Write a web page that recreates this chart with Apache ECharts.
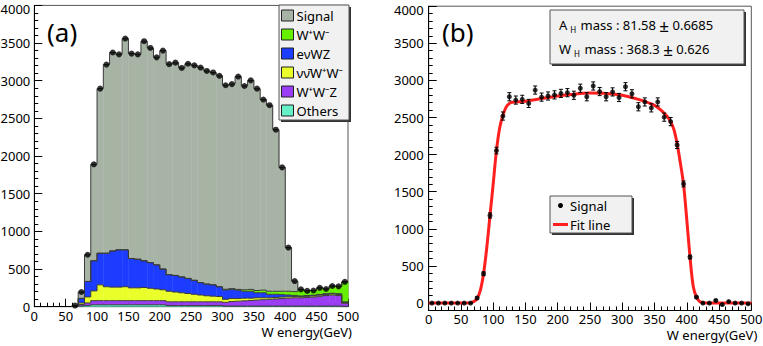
<!DOCTYPE html>
<html>
<head>
<meta charset="utf-8">
<script src="https://cdn.jsdelivr.net/npm/echarts@6/dist/echarts.min.js"></script>
<style>html,body{margin:0;padding:0;background:#fff;}#c{width:763px;height:346px;}</style>
</head>
<body>
<div id="c"></div>
<script>
// ---------- data ----------
const binEdges = [0,10,20,30,40,50,60,70,80,90,100,110,120,130,140,150,160,170,180,190,200,210,220,230,240,250,260,270,280,290,300,310,320,330,340,350,360,370,380,390,400,410,420,430,440,450,460,470,480,490,500];
const binCenters = [5,15,25,35,45,55,65,75,85,95,105,115,125,135,145,155,165,175,185,195,205,215,225,235,245,255,265,275,285,295,305,315,325,335,345,355,365,375,385,395,405,415,425,435,445,455,465,475,485,495];

// panel (a) stacked components, bottom to top
const others = [0,0,0,0,0,0,2,10,15,25,25,25,25,25,25,25,25,25,25,25,25,15,15,15,15,15,15,15,15,15,8,8,8,8,8,8,8,8,8,8,8,8,8,8,8,8,8,8,8,5];
const wwz    = [0,0,0,0,0,0,5,20,35,55,55,55,55,55,55,55,55,55,55,55,55,50,50,50,50,50,50,50,50,50,50,60,65,70,75,80,85,90,95,100,105,110,110,115,120,130,140,145,140,40];
const nnww   = [0,0,0,0,0,0,3,20,80,130,210,185,180,180,185,170,170,175,165,155,145,140,130,120,110,100,90,80,75,70,40,40,35,35,30,30,25,20,20,20,18,18,15,15,15,15,15,15,15,10];
const enwz   = [0,0,0,0,0,0,0,60,205,400,420,445,480,495,490,390,380,355,340,320,275,220,220,210,200,185,165,155,150,130,124,122,112,92,92,67,67,47,42,32,24,14,10,10,10,10,10,10,10,10];
const wwPair = [0,0,0,0,0,0,0,0,0,0,0,0,0,0,0,0,0,0,0,0,0,0,0,0,0,0,0,0,0,0,10,10,10,20,25,30,35,40,40,45,50,50,87,62,62,87,62,97,97,265];
const signalA= [0,0,0,0,0,0,5,85,355,1280,2185,2505,2635,2595,2805,2720,2720,2915,2850,2755,2900,2795,2825,2775,2850,2855,2855,2830,2820,2800,2708,2715,2825,2705,2775,2680,2530,2470,2145,1645,580,140,0,0,0,0,0,0,0,0];
const totalA = [0,0,0,0,0,0,15,195,690,1890,2895,3215,3375,3350,3560,3360,3350,3525,3435,3310,3400,3220,3240,3170,3225,3205,3175,3130,3110,3065,2940,2955,3055,2930,3005,2895,2750,2675,2350,1850,785,340,230,210,215,250,235,275,270,330];

// panel (b)
const signalB = [0,0,0,0,0,0,0,68,395,1180,2055,2520,2780,2735,2745,2690,2870,2775,2790,2805,2825,2835,2800,2895,2780,2925,2850,2780,2845,2770,2915,2820,2645,2710,2630,2710,2505,2445,2130,1605,620,80,0,0,35,-20,20,0,0,-10];
const errB    = [8,8,8,8,8,8,8,15,25,35,45,55,55,55,55,55,55,55,55,55,55,55,55,55,55,55,55,55,55,55,55,55,55,55,55,55,55,55,48,40,25,12,10,10,10,10,10,10,10,10];
const fitE = [0,20,40,60,65,70,75,80,85,90,95,100,105,110,115,120,125,130,150,175,200,225,250,275,300,325,350,360,370,375,380,385,390,395,400,405,410,415,420,425,430,450,475,500];
const fitV = [0,0,0,2,5,20,60,170,395,745,1180,1610,2055,2360,2530,2640,2690,2705,2720,2755,2790,2815,2830,2825,2800,2745,2665,2600,2510,2445,2340,2150,1890,1600,1125,620,225,80,20,5,0,0,0,0];

const yTicks = [0,500,1000,1500,2000,2500,3000,3500,4000];
const legendNamesA = ['Signal','W\u207AW\u207B','e\u03BDWZ','\u03BD\u03BD\u0304W\u207AW\u207B','W\u207AW\u207BZ','Others'];
const fitText1 = ['A','H',' mass : 81.58 ','\u00B1',' 0.6685'];
const fitText2 = ['W','H',' mass : 368.3 ','\u00B1',' 0.626'];
const legendNamesB = ['Signal','Fit line'];

// ---------- styles ----------
const FONT = 'Noto Sans';
const cols = {signal:'#a7b4a5', ww:'#66f000', enwz:'#1c3cff', nnww:'#eaff2a', wwz:'#9a3df5', others:'#66f0c8'};
const outline = '#3a3a3a';
const comps = [others, wwz, nnww, enwz, wwPair, signalA];
const compCols = [cols.others, cols.wwz, cols.nnww, cols.enwz, cols.ww, cols.signal];

function yLabelFmt(v){ return v === 4000 ? '{t|4000}' : String(v); }
const yLabelRich = {t:{fontSize:13, fontFamily:FONT, color:'#000', padding:[7,0,0,0]}};

const axisCommon = {
  axisLine:{show:true, onZero:false, lineStyle:{color:'#000', width:1}},
  splitLine:{show:false},
};
function xAx(grid, gap, pad, lblMargin){
  return Object.assign({}, axisCommon, {
    type:'value', gridIndex:grid, min:0, max:500, interval:50,
    axisTick:{inside:true, length:8, lineStyle:{color:'#000'}},
    minorTick:{show:true, splitNumber:5, length:4, lineStyle:{color:'#000'}},
    axisLabel:{margin:lblMargin, fontSize:13, lineHeight:13, color:'#000', fontFamily:FONT},
    name:'W energy(GeV)', nameLocation:'end', nameGap:gap,
    nameTextStyle:{align:'right', verticalAlign:'top', padding:[pad,0,0,0], fontSize:13, color:'#000', fontFamily:FONT}
  });
}

const chart = echarts.init(document.getElementById('c'), null, {renderer:'svg'});

const histData = binCenters.map((c,i)=>[binEdges[i], binEdges[i+1], c]);
const errBarData = binCenters.map((c,i)=>[c, signalB[i], errB[i]]);

const option = {
  backgroundColor:'#fff',
  animation:false,
  grid:[
    {left:34.3, top:5.4, width:313.7, height:301.3, show:true, borderColor:'#555', borderWidth:1, containLabel:false, outerBoundsMode:'none'},
    {left:428.7, top:6.2, width:322.6, height:304.3, show:true, borderColor:'#555', borderWidth:1, containLabel:false, outerBoundsMode:'none'}
  ],
  xAxis:[ xAx(0, 4, 19, 3), xAx(1, 6, 18, 2) ],
  yAxis:[
    Object.assign({}, axisCommon, {
      type:'value', gridIndex:0, min:0, max:4000, interval:500,
      axisTick:{inside:true, length:8, lineStyle:{color:'#000'}},
      minorTick:{show:true, splitNumber:5, length:4, lineStyle:{color:'#000'}},
      axisLabel:{margin:4, fontSize:13, color:'#000', fontFamily:FONT, formatter:yLabelFmt, rich:yLabelRich}
    }),
    Object.assign({}, axisCommon, {
      type:'value', gridIndex:1, min:-100, max:4000, interval:100,
      axisTick:{inside:true, length:4, lineStyle:{color:'#000'}},
      axisLabel:{margin:5, fontSize:13, color:'#000', fontFamily:FONT, customValues:yTicks, formatter:yLabelFmt, rich:yLabelRich}
    }),
    {
      type:'value', gridIndex:1, position:'left', offset:0, min:-100, max:4000,
      axisLine:{show:false}, splitLine:{show:false}, axisLabel:{show:false},
      axisTick:{show:true, inside:true, length:8, lineStyle:{color:'#000'}, customValues:yTicks}
    }
  ],
  series:[
    {
      name:'StackA', type:'custom', xAxisIndex:0, yAxisIndex:0, data:histData, z:2, silent:true,
      encode:{x:[0,1], y:[]},
      renderItem:function(params, api){
        const i = params.dataIndex;
        const x0 = api.value(0), x1 = api.value(1);
        const fills = [], lines = [];
        let cum = 0, cumPrev = 0;
        for (let k = 0; k < comps.length; k++){
          const v = comps[k][i];
          const pv = i > 0 ? comps[k][i-1] : 0;
          const lo = cum, hi = cum + v, phi = cumPrev + pv;
          cum = hi; cumPrev = phi;
          if (v > 0){
            const a = api.coord([x0, hi]), b = api.coord([x1, lo]);
            fills.push({type:'rect', shape:{x:a[0], y:a[1], width:b[0]-a[0]+0.4, height:b[1]-a[1]}, style:{fill:compCols[k]}});
          }
          if (hi > 0 || phi > 0){
            const p0 = api.coord([x0, hi]), p1 = api.coord([x1, hi]), pp = api.coord([x0, phi]);
            lines.push({type:'line', shape:{x1:p0[0], y1:p0[1], x2:p1[0], y2:p1[1]}, style:{stroke:outline, lineWidth:1}});
            if (phi !== hi) lines.push({type:'line', shape:{x1:pp[0], y1:pp[1], x2:p0[0], y2:p0[1]}, style:{stroke:outline, lineWidth:1}});
          }
        }
        return {type:'group', children:fills.concat(lines)};
      }
    },
    {
      name:'TotalA', type:'scatter', xAxisIndex:0, yAxisIndex:0,
      data: binCenters.map((c,i)=>[c,totalA[i]]).filter(p=>p[1]>0),
      symbol:'circle', symbolSize:6, itemStyle:{color:'#000'}, z:5, silent:true
    },
    {
      name:'ErrB', type:'custom', xAxisIndex:1, yAxisIndex:1, data: errBarData, z:4, silent:true,
      renderItem:function(params, api){
        const x = api.value(0), y = api.value(1), e = api.value(2);
        const t = api.coord([x, y+e]), b = api.coord([x, y-e]);
        const st = {stroke:'#000', lineWidth:1};
        return {type:'group', children:[
          {type:'line', shape:{x1:t[0], y1:t[1], x2:b[0], y2:b[1]}, style:st},
          {type:'line', shape:{x1:t[0]-2, y1:t[1], x2:t[0]+2, y2:t[1]}, style:st},
          {type:'line', shape:{x1:b[0]-2, y1:b[1], x2:b[0]+2, y2:b[1]}, style:st}
        ]};
      }
    },
    {
      name:'Fit', type:'line', xAxisIndex:1, yAxisIndex:1, data: fitE.map((e,i)=>[e, fitV[i]]),
      smooth:0.3, symbol:'none', lineStyle:{color:'#ff1f1f', width:3}, z:3, silent:true
    },
    {
      name:'SignalB', type:'scatter', xAxisIndex:1, yAxisIndex:1,
      data: binCenters.map((c,i)=>[c, signalB[i]]),
      symbol:'circle', symbolSize:5, itemStyle:{color:'#000'}, z:6, silent:true
    }
  ],
  graphic:[]
};

// panel labels
const g = option.graphic;
g.push({type:'text', x:47, y:32, style:{text:'(a)', fontSize:26, fontFamily:FONT, fill:'#000', verticalAlign:'middle'}, z:10});
g.push({type:'text', x:442, y:32, style:{text:'(b)', fontSize:26, fontFamily:FONT, fill:'#000', verticalAlign:'middle'}, z:10});

// legend (a)
g.push({type:'rect', shape:{x:281, y:7, width:70, height:115}, style:{fill:'#333'}, z:10});
g.push({type:'rect', shape:{x:279, y:5, width:70, height:115}, style:{fill:'#f0f1f0', stroke:'#555', lineWidth:1}, z:11});
const legCols = [cols.signal, cols.ww, cols.enwz, cols.nnww, cols.wwz, cols.others];
const rowsA = [15.5, 34.5, 53.5, 72.5, 91.5, 110.5];
legendNamesA.forEach((n,i)=>{
  g.push({type:'rect', shape:{x:281.5, y:rowsA[i]-5.5, width:12, height:11}, style:{fill:legCols[i], stroke:'#222', lineWidth:1}, z:12});
  g.push({type:'text', x:296.5, y:rowsA[i], style:{text:n, fontSize:13, fontFamily:FONT, fill:'#000', verticalAlign:'middle'}, z:12});
});

// fit result box (b)
g.push({type:'rect', shape:{x:552, y:12, width:194, height:54}, style:{fill:'#333'}, z:10});
g.push({type:'rect', shape:{x:550, y:10, width:194, height:54}, style:{fill:'#f0f1f0', stroke:'#555', lineWidth:1}, z:11});
function fitLine(parts, y){
  return {type:'text', x:559, y:y, z:12, style:{
    text:'{m|'+parts[0]+'}{s|'+parts[1]+'}{m|'+parts[2]+'}{pm|'+parts[3]+'}{m|'+parts[4]+'}',
    verticalAlign:'middle', fontFamily:FONT,
    rich:{
      m:{fontSize:13, fontFamily:FONT, color:'#000'},
      s:{fontSize:8, fontFamily:FONT, color:'#000', verticalAlign:'bottom', padding:[6,1,0,3]},
      pm:{fontSize:17, fontFamily:FONT, color:'#000'}
    }
  }};
}
g.push(fitLine(fitText1, 25));
g.push(fitLine(fitText2, 49));

// legend (b)
g.push({type:'rect', shape:{x:552, y:198, width:82, height:37}, style:{fill:'#333'}, z:10});
g.push({type:'rect', shape:{x:550, y:196, width:82, height:37}, style:{fill:'#f0f1f0', stroke:'#555', lineWidth:1}, z:11});
g.push({type:'circle', shape:{cx:560.5, cy:205.5, r:2.5}, style:{fill:'#000'}, z:12});
g.push({type:'text', x:570, y:205.5, style:{text:legendNamesB[0], fontSize:13, fontFamily:FONT, fill:'#000', verticalAlign:'middle'}, z:12});
g.push({type:'line', shape:{x1:553, y1:224.5, x2:568, y2:224.5}, style:{stroke:'#ff1f1f', lineWidth:3}, z:12});
g.push({type:'text', x:570, y:224.5, style:{text:legendNamesB[1], fontSize:13, fontFamily:FONT, fill:'#000', verticalAlign:'middle'}, z:12});

chart.setOption(option);
</script>
</body>
</html>
